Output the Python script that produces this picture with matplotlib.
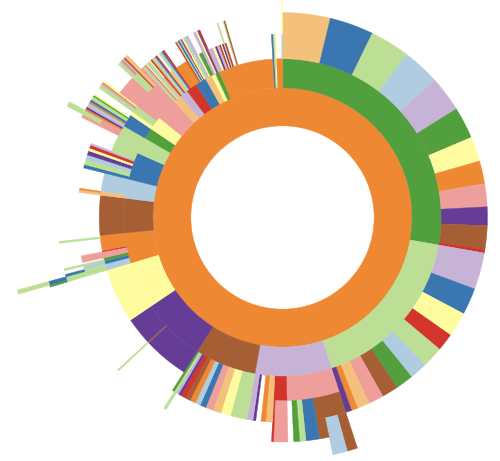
import numpy as np
import matplotlib
matplotlib.use("Agg")
import matplotlib.pyplot as plt

# "Paired" palette as it shows up in the picture
paired = {"lb": "#afcce0", "bl": "#3a77b0", "lg": "#bcdf95", "gr": "#529f3e",
          "pk": "#ee9f9c", "rd": "#d3342b", "lo": "#f4c17c", "or": "#ef8833",
          "lv": "#c7b3d6", "pu": "#653d97", "ye": "#fffc9f", "br": "#a65f34"}

# node = (colour, size) leaf | (colour, size, levels) leaf reaching several rings
#        (colour, [children]) ; colour None = empty slot
# second ring, clockwise from 12 o'clock
green_branch = ("gr", [
    ("lo", 13.5, 2), ("bl", 12.5, 2), ("lg", 11.4, 2), ("lb", 10.6, 2),
    ("lv", 10.0, 2), ("gr", 9.0, 2), ("ye", 7.0, 2), ("or", 6.5, 2),
    ("pk", 6.5, 2), ("pu", 5.3, 2), ("br", 6.7, 2), ("rd", 1.0, 2)])

lightgreen_branch = ("lg", [
    ("lv", 10.4, 2), ("bl", 7.6, 2), ("ye", 7.0, 2), ("rd", 5.0, 2),
    ("lg", 6.0, 2), ("lb", 5.0, 2), ("gr", 5.0, 2), ("br", 4.7, 2),
    ("pk", 4.3, 2), ("lo", 3.5, 2), ("or", 1.8, 2), ("pu", 1.7, 2)])

lavender_branch = ("lv", [
    ("pk", [("br", [("br", 2.5, 2), ("lb", 3.5, 2), ("br", 2.5)]),
            ("bl", 3.5, 2), ("lg", 1.6, 2), ("gr", 1.5, 2), (None, 1.5)]),
    ("rd", [("pk", 3.7, 2), ("rd", 0.5, 2)]),
    ("lo", 1.9, 2), ("or", 1.3, 2), (None, 1.5), ("pu", 0.8, 2), ("lv", 1.7, 2)])

brown_branch = ("br", [
    ("lg", 4.7, 2), ("ye", 2.8, 2), ("lo", 2.3, 2), ("pk", 2.2, 2),
    ("bl", 1.7, 2), ("lb", 1.5, 2), ("or", 1.6, 2), ("br", 1.4, 2),
    ("rd", 1.5, 2), ("pu", 0.8, 2), ("lv", 0.7, 2), ("lg", 0.7, 3), ("gr", 0.6, 2)])

purple_branch = ("pu", [("pu", 14.4), ("br", [("lg", 0.4, 2)]), ("pu", 8.7)])

yellow_branch = ("ye", [("ye", 17.3)])

orange_left = ("or", [
    ("lb", [("lg", [("lg", [("gr", 0.5), ("bl", [("lg", 0.9, 2)])]), ("bl", 0.6)])]),
    ("bl", [("lb", 1.0)]),
    ("gr", [("lg", 0.5, 2), (None, 0.5)]),
    ("pk", [("pk", 1.9)]),
    ("rd", 0.4),
    ("or", [(None, 3.8), ("lg", 0.5, 2), (None, 0.5)])])

brown_left = ("br", [("br", 12.6)])

lightblue_left = ("lb", [("lo", [("lo", 0.8), ("or", 0.4)]), ("lb", 5.8)])

blue_left = ("bl", [("bl", 1.0, 2), ("lg", 1.5, 2), ("lb", 1.3, 2), ("pu", 1.2, 2),
                    ("ye", 0.8, 2), ("rd", 0.9, 2), ("lv", 0.5, 2), ("lg", 2.8)])

top_left = [
    ("lg", [("lg", [(None, 2.5), ("pk", [("pk", 0.8), ("lg", 1.2, 2)]),
                    ("or", 0.5, 2), ("pu", 0.5, 2), ("lv", 0.5, 2)])]),
    ("gr", [("bl", [("lb", 0.6, 2), ("or", 0.5, 2), ("bl", 0.6, 2), ("lg", 0.9, 2),
                    ("gr", 0.4, 2), ("ye", 0.4, 2), (None, 0.6)])]),
    ("ye", [("ye", 1.2), ("lg", [("lg", 1.0, 2), ("lv", 0.5, 2), ("or", 0.4, 2), ("ye", 0.4, 2)]),
            ("pk", 1.5, 2)]),
    ("pk", [("pk", [("pk", 4.0), ("lg", [("lg", 0.8), ("lv", 0.5), ("or", 0.4), ("lb", 0.4)]),
                    ("rd", 0.4, 2), ("lo", 0.8, 2), ("pk", 0.7)])]),
    ("lo", [("lg", 0.5, 2), ("lv", 0.4, 2), ("or", 0.4, 2), ("ye", 0.3, 2), ("lb", 0.4, 2),
            ("lg", 0.6, 2), ("pk", 0.4)]),
    ("lv", [("rd", 0.4, 2), ("or", 0.3, 2), ("lg", 0.5, 2), ("lb", 0.4, 2), ("bl", 0.3, 2),
            ("rd", 0.3, 2), ("lo", 0.8)]),
    ("rd", [("lg", 0.4, 2), ("lb", 0.5, 2), ("bl", 0.4, 2), ("rd", 0.4, 2), ("or", 2.3)]),
    ("bl", [("or", 1.5), ("rd", 0.4, 2), ("lg", 0.4, 2), ("bl", 0.5, 2), ("lb", 0.4, 2),
            ("rd", 0.3, 2), ("ye", 0.5)]),
    ("lo", [("lg", 0.5, 2), ("lb", 0.4, 2), ("lv", 0.6, 2), ("ye", 0.5), ("gr", 0.5)]),
    ("ye", [("gr", 0.7), ("lv", 0.8, 2)]),
    ("gr", [("ye", 0.5, 2), ("pu", 0.4, 2), ("rd", 0.3, 2), ("lv", 0.3)]),
    ("or", [("lv", 1.2), ("ye", 0.8), ("pu", 0.6), ("lv", 0.8), ("rd", 0.5), ("ye", 0.4),
            ("pu", 0.5), ("lg", 0.4, 2), ("rd", 0.4), (None, 1.0), ("lg", 0.3, 2),
            ("br", 0.3, 2), (None, 12.8)]),
    ("bl", 0.6, 2), ("lg", 0.5, 2), ("ye", 0.3, 2),
    ("or", [(None, 1.9), ("lb", [("ye", 0.2, 3)])]),
]

ring2 = [green_branch, lightgreen_branch, lavender_branch, brown_branch,
         purple_branch, yellow_branch, orange_left, brown_left,
         lightblue_left, blue_left] + top_left
root = ("or", ring2)

LEVEL_AREA = 8400.0   # equal-area rings: r = sqrt(depth * LEVEL_AREA)


def size(node):
    body = node[1]
    if isinstance(body, list):
        return sum(size(c) for c in body)
    return body


def draw(ax, node, depth, start, scale):
    colour, body = node[0], node[1]
    span = size(node) * scale
    levels = 1 if isinstance(body, list) else (node[2] if len(node) > 2 else 1)
    if colour is not None:
        r0 = np.sqrt(depth * LEVEL_AREA)
        r1 = np.sqrt((depth + levels) * LEVEL_AREA)
        ax.bar(start, r1 - r0, width=span, bottom=r0, align="edge",
               color=paired[colour], edgecolor=paired[colour], linewidth=0.3)
    if isinstance(body, list):
        s = start
        for child in body:
            draw(ax, child, depth + 1, s, scale)
            s += size(child) * scale


fig = plt.figure(figsize=(5, 4.61), dpi=100)
R = 300.0
cx, cy = 282.5, 461 - 217.5
ax = fig.add_axes([(cx - R) / 500, (cy - R) / 461, 2 * R / 500, 2 * R / 461], projection="polar")
ax.set_theta_zero_location("N")
ax.set_theta_direction(-1)
ax.set_ylim(0, R)
ax.axis("off")

draw(ax, root, 1, 0.0, 2 * np.pi / size(root))

fig.savefig("out.png", dpi=100)
